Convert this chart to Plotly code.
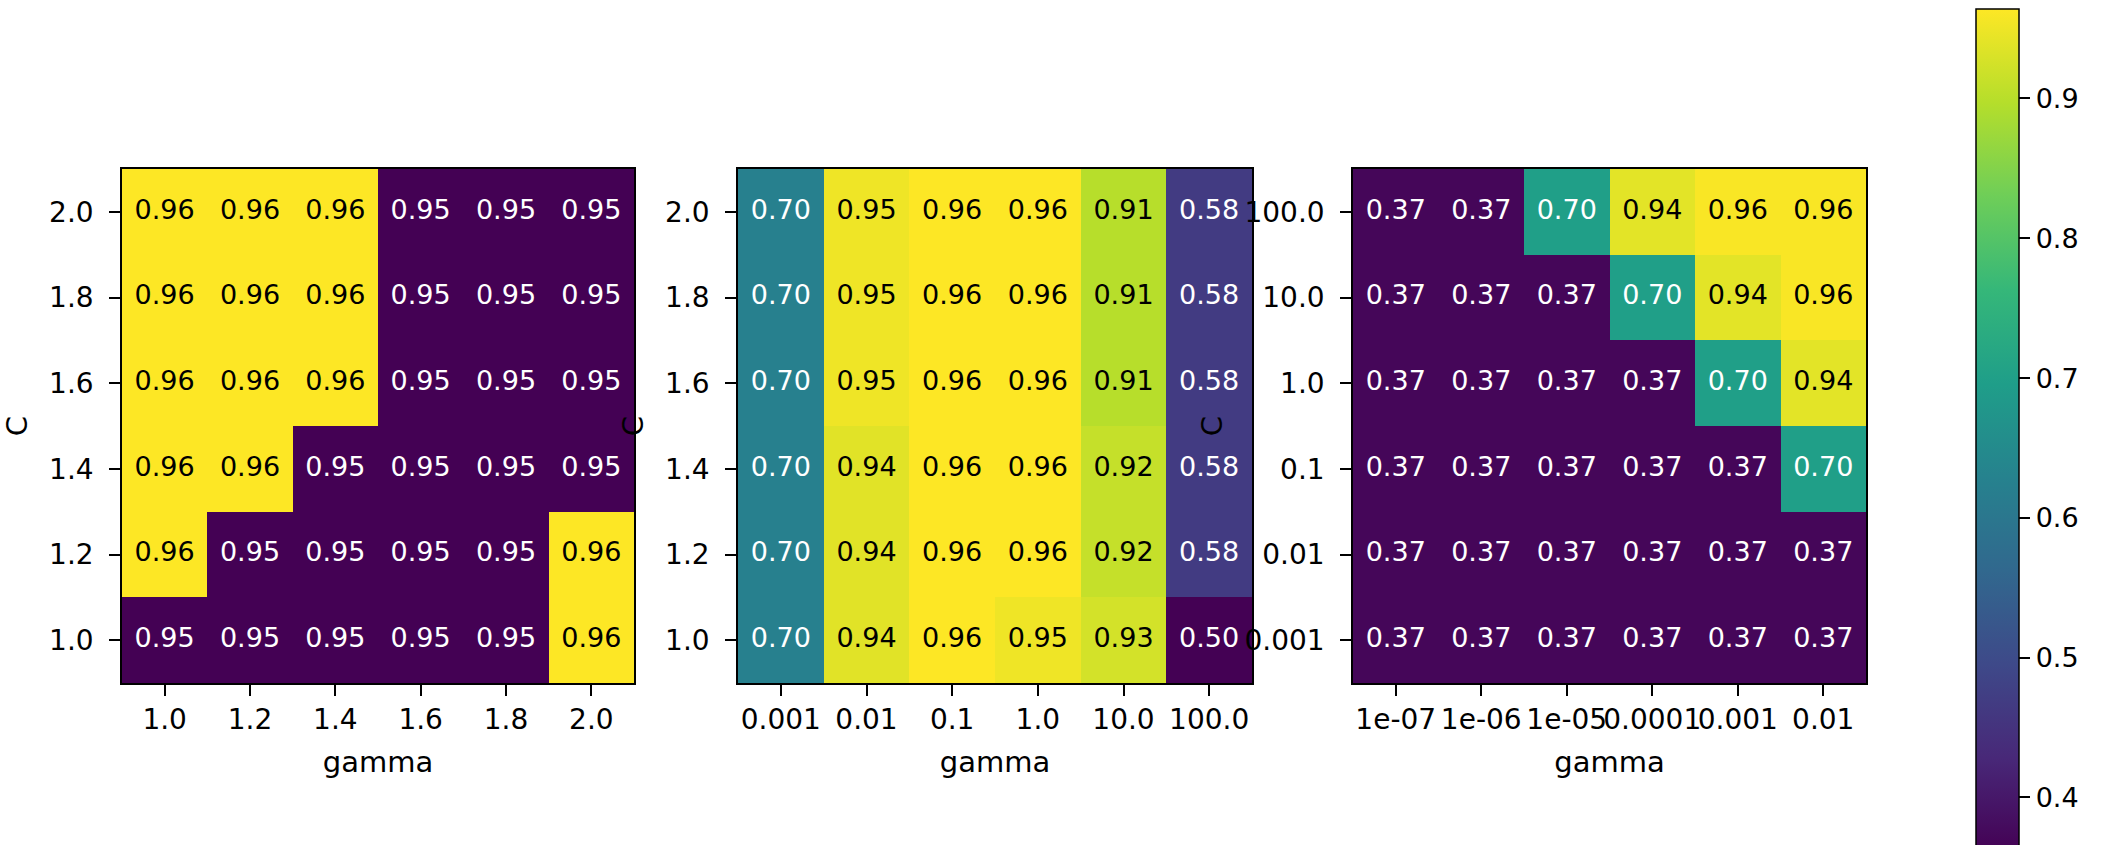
import plotly.graph_objects as go
from plotly.colors import sample_colorscale

# Grid-search accuracy heatmaps: rows are C values (bottom to top), columns are gamma values
c_lin = ["1.0", "1.2", "1.4", "1.6", "1.8", "2.0"]
gamma_lin = ["1.0", "1.2", "1.4", "1.6", "1.8", "2.0"]
scores_lin = [
    [0.95, 0.95, 0.95, 0.95, 0.95, 0.96],  # C=1.0
    [0.96, 0.95, 0.95, 0.95, 0.95, 0.96],  # C=1.2
    [0.96, 0.96, 0.95, 0.95, 0.95, 0.95],  # C=1.4
    [0.96, 0.96, 0.96, 0.95, 0.95, 0.95],  # C=1.6
    [0.96, 0.96, 0.96, 0.95, 0.95, 0.95],  # C=1.8
    [0.96, 0.96, 0.96, 0.95, 0.95, 0.95],  # C=2.0
]

c_mixed = ["1.0", "1.2", "1.4", "1.6", "1.8", "2.0"]
gamma_log = ["0.001", "0.01", "0.1", "1.0", "10.0", "100.0"]
scores_mixed = [
    [0.70, 0.94, 0.96, 0.95, 0.93, 0.50],  # C=1.0
    [0.70, 0.94, 0.96, 0.96, 0.92, 0.58],  # C=1.2
    [0.70, 0.94, 0.96, 0.96, 0.92, 0.58],  # C=1.4
    [0.70, 0.95, 0.96, 0.96, 0.91, 0.58],  # C=1.6
    [0.70, 0.95, 0.96, 0.96, 0.91, 0.58],  # C=1.8
    [0.70, 0.95, 0.96, 0.96, 0.91, 0.58],  # C=2.0
]

c_log = ["0.001", "0.01", "0.1", "1.0", "10.0", "100.0"]
gamma_small = ["1e-07", "1e-06", "1e-05", "0.0001", "0.001", "0.01"]
scores_log = [
    [0.37, 0.37, 0.37, 0.37, 0.37, 0.37],  # C=0.001
    [0.37, 0.37, 0.37, 0.37, 0.37, 0.37],  # C=0.01
    [0.37, 0.37, 0.37, 0.37, 0.37, 0.70],  # C=0.1
    [0.37, 0.37, 0.37, 0.37, 0.70, 0.94],  # C=1.0
    [0.37, 0.37, 0.37, 0.70, 0.94, 0.96],  # C=10.0
    [0.37, 0.37, 0.70, 0.94, 0.96, 0.96],  # C=100.0
]

# Each panel normalises its own colour range
color_ranges = [(0.95, 0.96), (0.50, 0.96), (0.361, 0.964)]
colorbar_ticks = [0.4, 0.5, 0.6, 0.7, 0.8, 0.9]

FONT = "DejaVu Sans"
FS_CELL = 27
FS_TICK = 28
FS_TITLE = 29
W, H = 2107, 845

panels = [
    (gamma_lin, c_lin, scores_lin),
    (gamma_log, c_mixed, scores_mixed),
    (gamma_small, c_log, scores_log),
]
x_domains = [(122 / W, 634 / W), (738 / W, 1252 / W), (1353 / W, 1866 / W)]
y_domain = (1 - 683 / H, 1 - 169 / H)


def text_color(value, lo, hi):
    t = min(max((value - lo) / (hi - lo), 0.0), 1.0)
    rgb = sample_colorscale("Viridis", [t], colortype="tuple")[0]
    return "black" if sum(rgb) / 3 > 0.5 else "white"


fig = go.Figure()
for i, (xs, ys, zs) in enumerate(panels):
    lo, hi = color_ranges[i]
    suffix = "" if i == 0 else str(i + 1)
    xa, ya = "x" + suffix, "y" + suffix
    hm = dict(
        z=zs, x=xs, y=ys, xaxis=xa, yaxis=ya,
        colorscale="Viridis", zmin=lo, zmax=hi,
        showscale=(i == 2), hoverinfo="skip",
    )
    if i == 2:
        hm["colorbar"] = dict(
            x=1976 / W, xanchor="left", xpad=0,
            y=1 - 9 / H, yanchor="top", ypad=0,
            thickness=43, thicknessmode="pixels",
            len=843, lenmode="pixels",
            outlinewidth=1.5, outlinecolor="black",
            tickmode="array", tickvals=colorbar_ticks,
            ticktext=[f"{v:.1f}" for v in colorbar_ticks],
            ticks="outside", ticklen=11, tickwidth=1.5, tickcolor="black",
            tickfont=dict(family=FONT, size=FS_TICK - 1, color="black"),
        )
    fig.add_trace(go.Heatmap(**hm))

    tx, ty, tt, tc = [], [], [], []
    for r, row in enumerate(zs):
        for c, v in enumerate(row):
            tx.append(xs[c])
            ty.append(ys[r])
            tt.append(f"{v:.2f}")
            tc.append(text_color(v, lo, hi))
    fig.add_trace(go.Scatter(
        x=tx, y=ty, text=tt, mode="text", xaxis=xa, yaxis=ya,
        textfont=dict(family=FONT, size=FS_CELL, color=tc),
        textposition="middle center", showlegend=False, hoverinfo="skip",
    ))

    axis_common = dict(
        type="category", showline=True, mirror=True, linecolor="black",
        linewidth=1.5, ticks="outside", ticklen=11, tickwidth=1.5,
        tickcolor="black", showgrid=False, zeroline=False, tickangle=0,
        tickfont=dict(family=FONT, size=FS_TICK, color="black"),
    )
    fig.layout["xaxis" + suffix] = dict(
        axis_common, domain=x_domains[i], anchor=ya,
        categoryorder="array", categoryarray=xs, range=[-0.5, len(xs) - 0.5],
        title=dict(text="gamma", font=dict(family=FONT, size=FS_TITLE, color="black"), standoff=16),
    )
    fig.layout["yaxis" + suffix] = dict(
        axis_common, domain=y_domain, anchor=xa, ticklabelstandoff=10,
        categoryorder="array", categoryarray=ys, range=[-0.5, len(ys) - 0.5],
        title=dict(text="C", font=dict(family=FONT, size=FS_TITLE, color="black"), standoff=13),
    )

fig.update_layout(
    width=W, height=H,
    margin=dict(l=0, r=0, t=0, b=0),
    paper_bgcolor="white", plot_bgcolor="white",
    font=dict(family=FONT, size=FS_TICK, color="black"),
    showlegend=False,
)

fig.write_html("out.html")
